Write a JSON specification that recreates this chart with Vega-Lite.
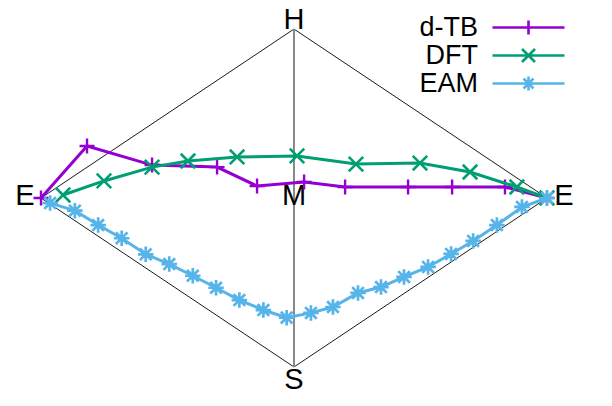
{
  "$schema": "https://vega.github.io/schema/vega-lite/v6.json",
  "width": 612,
  "height": 406,
  "autosize": {"type": "fit", "contains": "padding"},
  "padding": 0,
  "background": "white",
  "config": {"view": {"stroke": null}},
  "datasets": {
    "pts": [
      {"s": "d-TB", "u": -1.0, "v": 0.0},
      {"s": "d-TB", "u": -0.818, "v": 0.308},
      {"s": "d-TB", "u": -0.561, "v": 0.195},
      {"s": "d-TB", "u": -0.304, "v": 0.183},
      {"s": "d-TB", "u": -0.146, "v": 0.071},
      {"s": "d-TB", "u": 0.04, "v": 0.095},
      {"s": "d-TB", "u": 0.202, "v": 0.065},
      {"s": "d-TB", "u": 0.451, "v": 0.065},
      {"s": "d-TB", "u": 0.625, "v": 0.065},
      {"s": "d-TB", "u": 0.834, "v": 0.065},
      {"s": "d-TB", "u": 1.0, "v": 0.0},
      {"s": "DFT", "u": -0.913, "v": 0.018},
      {"s": "DFT", "u": -0.751, "v": 0.101},
      {"s": "DFT", "u": -0.561, "v": 0.183},
      {"s": "DFT", "u": -0.419, "v": 0.219},
      {"s": "DFT", "u": -0.225, "v": 0.243},
      {"s": "DFT", "u": 0.012, "v": 0.249},
      {"s": "DFT", "u": 0.245, "v": 0.201},
      {"s": "DFT", "u": 0.498, "v": 0.207},
      {"s": "DFT", "u": 0.696, "v": 0.154},
      {"s": "DFT", "u": 0.881, "v": 0.065},
      {"s": "DFT", "u": 1.0, "v": 0.0},
      {"s": "EAM", "u": -0.964, "v": -0.03},
      {"s": "EAM", "u": -0.866, "v": -0.075},
      {"s": "EAM", "u": -0.774, "v": -0.16},
      {"s": "EAM", "u": -0.681, "v": -0.238},
      {"s": "EAM", "u": -0.586, "v": -0.333},
      {"s": "EAM", "u": -0.493, "v": -0.391},
      {"s": "EAM", "u": -0.4, "v": -0.46},
      {"s": "EAM", "u": -0.308, "v": -0.531},
      {"s": "EAM", "u": -0.216, "v": -0.604},
      {"s": "EAM", "u": -0.121, "v": -0.663},
      {"s": "EAM", "u": -0.029, "v": -0.708},
      {"s": "EAM", "u": 0.067, "v": -0.68},
      {"s": "EAM", "u": 0.154, "v": -0.645},
      {"s": "EAM", "u": 0.253, "v": -0.562},
      {"s": "EAM", "u": 0.344, "v": -0.527},
      {"s": "EAM", "u": 0.435, "v": -0.467},
      {"s": "EAM", "u": 0.53, "v": -0.408},
      {"s": "EAM", "u": 0.621, "v": -0.331},
      {"s": "EAM", "u": 0.708, "v": -0.254},
      {"s": "EAM", "u": 0.802, "v": -0.16},
      {"s": "EAM", "u": 0.901, "v": -0.053},
      {"s": "EAM", "u": 1.0, "v": 0.0}
    ],
    "frame": [
      {"u": -1, "v": 0, "k": 0},
      {"u": 0, "v": 1, "k": 1},
      {"u": 1, "v": 0, "k": 2},
      {"u": 0, "v": -1, "k": 3},
      {"u": -1, "v": 0, "k": 4}
    ],
    "axisline": [{"u": 0, "v": 1, "v2": -1}],
    "labels": [
      {"u": -1.063, "v": 0.012, "t": "E"},
      {"u": 1.067, "v": 0.012, "t": "E"},
      {"u": 0, "v": 1.053, "t": "H"},
      {"u": 0, "v": -1.077, "t": "S"},
      {"u": 0, "v": 0.012, "t": "M"}
    ]
  },
  "encoding": {
    "x": {"field": "u", "type": "quantitative", "scale": {"domain": [-1.162, 1.257], "nice": false, "zero": false}, "axis": null},
    "y": {"field": "v", "type": "quantitative", "scale": {"domain": [-1.231, 1.172], "nice": false, "zero": false}, "axis": null}
  },
  "layer": [
    {
      "data": {"name": "frame"},
      "mark": {"type": "line", "color": "black", "strokeWidth": 0.9},
      "encoding": {"order": {"field": "k", "type": "quantitative"}}
    },
    {
      "data": {"name": "axisline"},
      "mark": {"type": "rule", "color": "#888888", "strokeWidth": 2},
      "encoding": {"y2": {"field": "v2"}}
    },
    {
      "data": {"name": "labels"},
      "mark": {"type": "text", "font": "Liberation Sans", "fontSize": 29, "align": "center", "baseline": "middle", "color": "black"},
      "encoding": {"text": {"field": "t", "type": "nominal"}}
    },
    {
      "data": {"name": "pts"},
      "transform": [{"filter": "datum.s == 'd-TB'"}],
      "mark": {"type": "line", "color": "#9400d3", "strokeWidth": 3},
      "encoding": {}
    },
    {
      "data": {"name": "pts"},
      "transform": [{"filter": "datum.s == 'd-TB'"}],
      "mark": {"type": "point", "shape": "M-1,0H1M0,-1V1", "filled": false, "size": 225, "strokeWidth": 2.4, "color": "#9400d3", "opacity": 1},
      "encoding": {}
    },
    {
      "data": {"name": "pts"},
      "transform": [{"filter": "datum.s == 'DFT'"}],
      "mark": {"type": "line", "color": "#009e73", "strokeWidth": 3},
      "encoding": {}
    },
    {
      "data": {"name": "pts"},
      "transform": [{"filter": "datum.s == 'DFT'"}],
      "mark": {"type": "point", "shape": "M-1,-1L1,1M-1,1L1,-1", "filled": false, "size": 210, "strokeWidth": 2.6, "color": "#009e73", "opacity": 1},
      "encoding": {}
    },
    {
      "data": {"name": "pts"},
      "transform": [{"filter": "datum.s == 'EAM'"}],
      "mark": {"type": "line", "color": "#56b4e9", "strokeWidth": 3},
      "encoding": {}
    },
    {
      "data": {"name": "pts"},
      "transform": [{"filter": "datum.s == 'EAM'"}],
      "mark": {"type": "point", "shape": "M-1,0H1M0,-1V1M-0.75,-0.75L0.75,0.75M-0.75,0.75L0.75,-0.75", "filled": false, "size": 240, "strokeWidth": 2.7, "color": "#56b4e9", "opacity": 1},
      "encoding": {}
    },
    {
      "data": {"name": "pts"},
      "transform": [{"filter": "false"}],
      "mark": {"type": "point", "filled": false, "size": 400, "strokeWidth": 2.5, "opacity": 1},
      "encoding": {
        "color": {
          "field": "s", "type": "nominal",
          "scale": {"domain": ["d-TB", "DFT", "EAM"], "range": ["#9400d3", "#009e73", "#56b4e9"]},
          "legend": {"orient": "none", "legendX": 515, "legendY": 14, "title": null, "padding": 0, "labelFont": "Liberation Sans", "labelFontSize": 27, "labelColor": "black", "labelAlign": "right", "labelOffset": -64, "symbolStrokeWidth": 2.6, "symbolFillColor": "transparent", "symbolSize": 400, "symbolOpacity": 1, "rowPadding": 0}
        },
        "shape": {
          "field": "s", "type": "nominal",
          "scale": {"domain": ["d-TB", "DFT", "EAM"], "range": ["M-3.6,0H3.6M0,-0.7V0.7", "M-3.6,0H3.6M-0.65,-0.65L0.65,0.65M-0.65,0.65L0.65,-0.65", "M-3.6,0H3.6M0,-0.7V0.7M-0.5,-0.5L0.5,0.5M-0.5,0.5L0.5,-0.5"]},
          "legend": {"orient": "none", "legendX": 515, "legendY": 14, "title": null, "padding": 0, "labelFont": "Liberation Sans", "labelFontSize": 27, "labelColor": "black", "labelAlign": "right", "labelOffset": -64, "symbolStrokeWidth": 2.6, "symbolFillColor": "transparent", "symbolSize": 400, "symbolOpacity": 1, "rowPadding": 0}
        }
      }
    }
  ]
}
